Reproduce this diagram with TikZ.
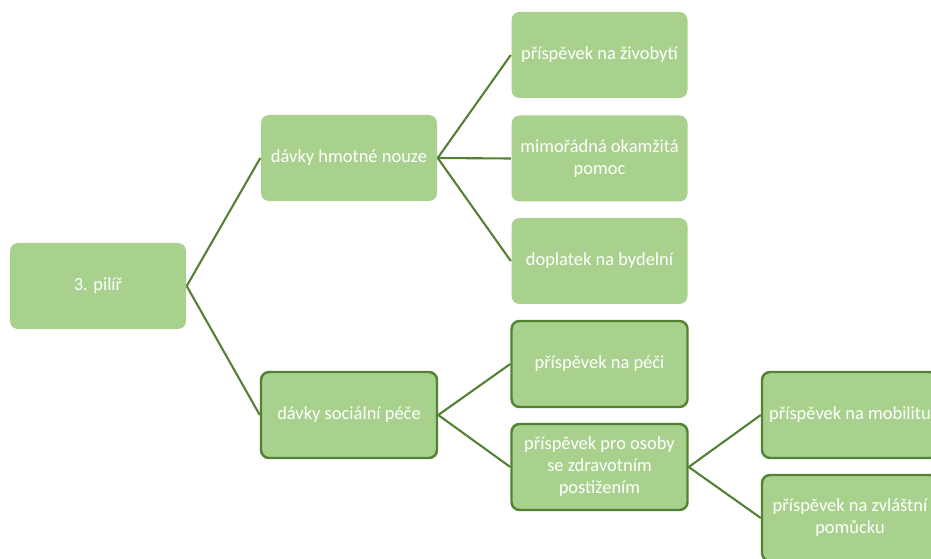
\documentclass[tikz,border=0pt]{standalone}
\usepackage{fontspec}
\setmainfont{Carlito}
\usetikzlibrary{positioning}
\definecolor{leaf}{HTML}{A9D18E}
\definecolor{stem}{HTML}{548235}

\begin{document}
\begin{tikzpicture}[thick, font=\fontsize{10.5}{12.5}\selectfont,
    box/.style={rectangle, rounded corners=0.16cm, fill=leaf, text=white,
        minimum width=3.52cm, minimum height=1.72cm, align=center},
    framed/.style={box, draw=stem, line width=1.4pt},
    link/.style={draw=stem, line width=1.2pt}]
        \useasboundingbox (0,0) rectangle (18.62,-11.18);
        \clip (0,0) rectangle (18.62,-11.18);

        \node[box] (pilir) at (1.96,-5.72) {3. pilíř};
        \node[box] (nouze) at (6.98,-3.16) {dávky hmotné nouze};
        \node[framed] (pece) at (6.98,-8.30) {dávky sociální péče};

        \node[box] (zivobyti) at (11.99,-1.10) {příspěvek na živobytí};
        \node[box] (pomoc) at (11.99,-3.17) {mimořádná okamžitá\\pomoc};
        \node[box] (bydleni) at (11.99,-5.22) {doplatek na bydelní};

        \node[framed] (napeci) at (11.99,-7.28) {příspěvek na péči};
        \node[framed] (osoby) at (11.99,-9.34) {příspěvek pro osoby\\se zdravotním\\postižením};

        \node[framed] (mobilita) at (17.0,-8.30) {příspěvek na mobilitu};
        \node[framed] (pomucka) at (17.0,-10.36) {příspěvek na zvláštní\\pomůcku};

        \draw[link] (pilir.east) -- (nouze.west);
        \draw[link] (pilir.east) -- (pece.west);
        \draw[link] (nouze.east) -- (zivobyti.west);
        \draw[link] (nouze.east) -- (pomoc.west);
        \draw[link] (nouze.east) -- (bydleni.west);
        \draw[link] (pece.east) -- (napeci.west);
        \draw[link] (pece.east) -- (osoby.west);
        \draw[link] (osoby.east) -- (mobilita.west);
        \draw[link] (osoby.east) -- (pomucka.west);
    \end{tikzpicture}
\end{document}
